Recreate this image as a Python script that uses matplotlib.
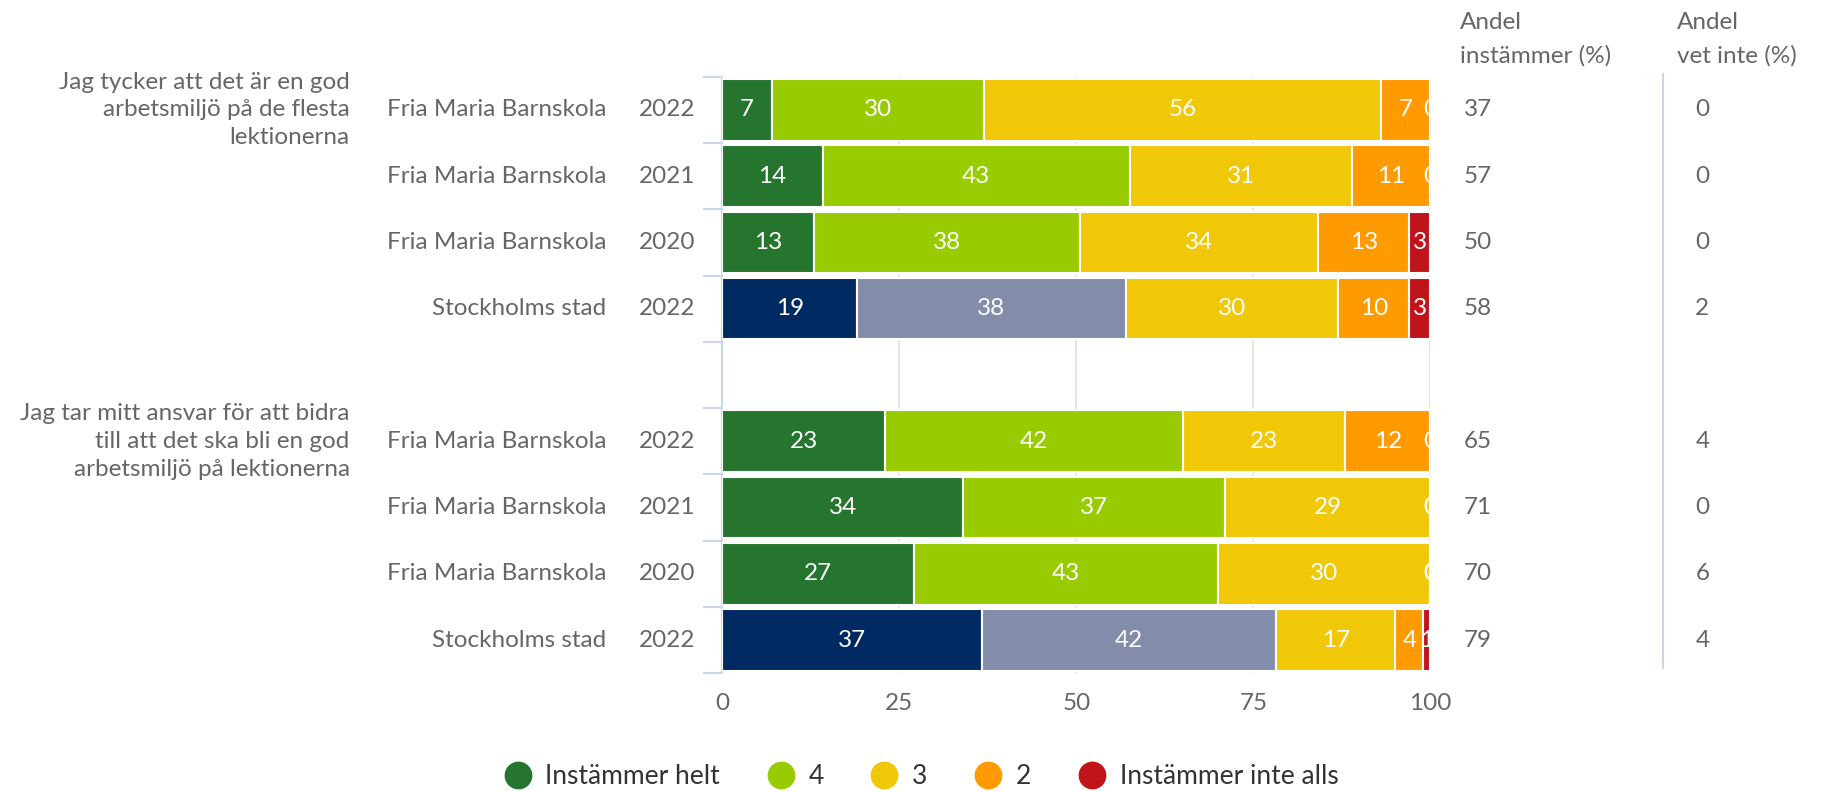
import matplotlib
matplotlib.use("Agg")
import matplotlib.pyplot as plt
import matplotlib.transforms as mtransforms
from matplotlib.lines import Line2D

plt.rcParams['font.family'] = ['Lato', 'DejaVu Sans']

questions = [
    "Jag tycker att det är en god\narbetsmiljö på de flesta\nlektionerna",
    "Jag tar mitt ansvar för att bidra\ntill att det ska bli en god\narbetsmiljö på lektionerna",
]
schools = ["Fria Maria Barnskola", "Fria Maria Barnskola", "Fria Maria Barnskola", "Stockholms stad"] * 2
years = ["2022", "2021", "2020", "2022"] * 2

helt = [7, 14, 13, 19, 23, 34, 27, 37]
fyra = [30, 43, 38, 38, 42, 37, 43, 42]
tre = [56, 31, 34, 30, 23, 29, 30, 17]
tva = [7, 11, 13, 10, 12, 0, 0, 4]
inte = [0, 0, 3, 3, 0, 0, 0, 1]

andel_instammer = [37, 57, 50, 58, 65, 71, 70, 79]
andel_vet_inte = [0, 0, 0, 2, 4, 0, 6, 4]

series_names = ["Instämmer helt", "4", "3", "2", "Instämmer inte alls"]
colors = ["#25752f", "#99cc00", "#f0c808", "#ff9a00", "#c0141a"]
stad_colors = ["#002a61", "#838ca8"]

GRAY = "#666666"
FS = 17.5

fig = plt.figure(figsize=(18.21, 7.91), dpi=100)
ax = fig.add_axes([0.3967, 0.149, 0.3888, 0.754])

# row positions, slot 4 is the gap between the two questions
ypos = [0, 1, 2, 3, 5, 6, 7, 8]
series = [helt, fyra, tre, tva, inte]

for i, y in enumerate(ypos):
    vals = [s[i] for s in series]
    total = sum(vals)
    left = 0
    is_stad = schools[i] == "Stockholms stad"
    for k, v in enumerate(vals):
        w = v / total * 100
        c = colors[k]
        if is_stad and k < 2:
            c = stad_colors[k]
        ax.barh(y, w, left=left, height=0.93, color=c, edgecolor="white",
                linewidth=1.5, zorder=3)
        ax.text(left + w / 2, y, str(v), ha="center", va="center",
                color="white", fontsize=FS, zorder=4, clip_on=True)
        left += w

ax.set_xlim(0, 100)
ax.set_ylim(8.5, -0.5)
ax.set_xticks([0, 25, 50, 75, 100])
ax.tick_params(axis="x", length=0, pad=14, labelsize=FS, labelcolor=GRAY)
ax.set_yticks([])
ax.set_yticks([b - 0.5 for b in range(10)], minor=True)
ax.tick_params(axis="y", which="minor", length=14, color="#ccd6eb", width=1.5)
ax.grid(axis="x", color="#e6e6e6", linewidth=1.5, zorder=0)
for side in ["top", "right", "bottom"]:
    ax.spines[side].set_visible(False)
ax.spines["left"].set_color("#ccd6eb")
ax.spines["left"].set_linewidth(1.5)

# row labels and the two value columns
trans = mtransforms.blended_transform_factory(fig.transFigure, ax.transData)
for i, y in enumerate(ypos):
    ax.text(0.333, y, schools[i], transform=trans, ha="right", va="center",
            fontsize=FS, color=GRAY)
    ax.text(0.382, y, years[i], transform=trans, ha="right", va="center",
            fontsize=FS, color=GRAY)
    ax.text(0.804, y, str(andel_instammer[i]), transform=trans, ha="left",
            va="center", fontsize=FS, color=GRAY)
    ax.text(0.931, y, str(andel_vet_inte[i]), transform=trans, ha="left",
            va="center", fontsize=FS, color=GRAY)

for q, y in zip(questions, [0, 5]):
    ax.text(0.192, y, q, transform=trans, ha="right", va="center",
            fontsize=FS, color=GRAY, linespacing=1.4, multialignment="right")

# column headers
fig.text(0.8017, 0.972, "Andel", ha="left", va="center", fontsize=FS, color=GRAY)
fig.text(0.8017, 0.930, "instämmer (%)", ha="left", va="center", fontsize=FS, color=GRAY)
fig.text(0.921, 0.972, "Andel", ha="left", va="center", fontsize=FS, color=GRAY)
fig.text(0.921, 0.930, "vet inte (%)", ha="left", va="center", fontsize=FS, color=GRAY)

fig.add_artist(Line2D([0.913, 0.913], [0.1555, 0.906], color="#ccd6eb",
                      linewidth=1.5, transform=fig.transFigure))

handles = [Line2D([], [], marker="o", linestyle="none", markersize=19,
                  markerfacecolor=c, markeredgecolor=c) for c in colors]
leg = fig.legend(handles, series_names, loc="center", ncol=5,
                 bbox_to_anchor=(0.506, 0.018), frameon=False, fontsize=19,
                 handlelength=1.0, handletextpad=0.55, columnspacing=1.8)
for t in leg.get_texts():
    t.set_color("#333333")

fig.savefig("out.png", dpi=100)
